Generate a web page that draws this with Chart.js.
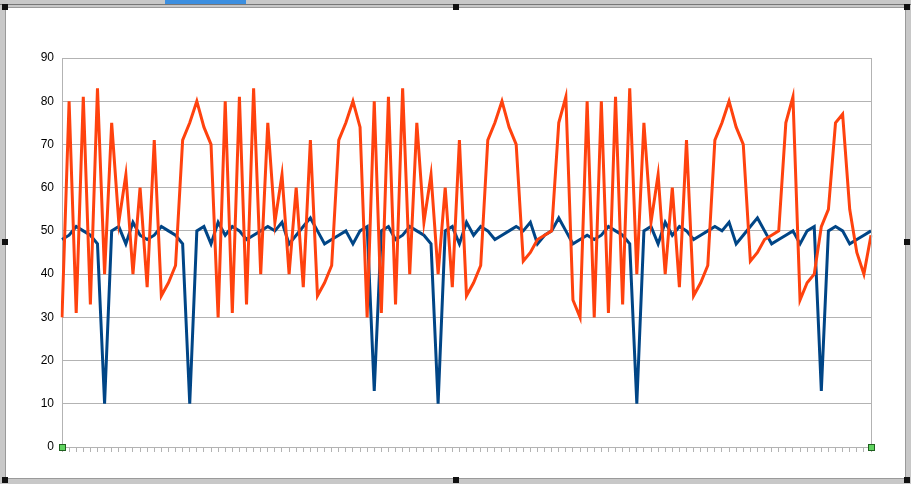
<!DOCTYPE html>
<html>
<head>
<meta charset="utf-8">
<script src="https://cdn.jsdelivr.net/npm/chart.js@4/dist/chart.umd.min.js"></script>
<style>
    html, body { margin: 0; padding: 0; }
    body { width: 911px; height: 484px; position: relative; overflow: hidden; background: #c8c8c8; font-family: "Liberation Sans", Arial, sans-serif; }
    .sheet { position: absolute; left: 5px; top: 7px; width: 899px; height: 470px; background: #fff; border: 1px solid #9a9a9a; }
    .tab { position: absolute; left: 165px; top: 0; width: 81px; height: 4px; background: #3c8fe0; }
    .topline { position: absolute; left: 0; top: 4px; width: 911px; height: 1px; background: #777; }
    .handle { position: absolute; width: 6px; height: 6px; background: #111; }
    #chart { position: absolute; left: 0; top: 0; }
</style>
</head>
<body>
<div class="topline"></div>
<div class="tab"></div>
<div class="sheet"></div>
<canvas id="chart" width="911" height="484"></canvas>
<div class="handle" style="left:2px;top:4px"></div>
<div class="handle" style="left:453px;top:4px"></div>
<div class="handle" style="left:904px;top:4px"></div>
<div class="handle" style="left:2px;top:239px"></div>
<div class="handle" style="left:904px;top:239px"></div>
<div class="handle" style="left:2px;top:477px"></div>
<div class="handle" style="left:453px;top:477px"></div>
<div class="handle" style="left:904px;top:477px"></div>
<script>
    // Series values
    const blueSeries = [
        48, 49, 51, 50, 49, 47, 10,
        50, 51, 47, 52, 49, 48, 49, 51, 50, 49, 47, 10,
        50, 51, 47, 52, 49, 51, 50, 48, 49, 50, 51, 50, 52, 47, 49, 51, 53, 50, 47, 48, 49, 50, 47, 50, 51, 13,
        50, 51, 48, 49, 51, 50, 49, 47, 10,
        50, 51, 47, 52, 49, 51, 50, 48, 49, 50, 51, 50, 52, 47, 49, 50, 53, 50, 47, 48, 49, 48, 49, 51, 50, 49, 47, 10,
        50, 51, 47, 52, 49, 51, 50, 48, 49, 50, 51, 50, 52, 47, 49, 51, 53, 50, 47, 48, 49, 50, 47, 50, 51, 13,
        50, 51, 50, 47, 48, 49, 50
    ];
    const orangeSeries = [
        30, 80, 31, 81, 33, 83, 40, 75, 52, 63, 40, 60, 37, 71, 35, 38, 42, 71, 75, 80, 74, 70,
        30, 80, 31, 81, 33, 83, 40, 75, 52, 63, 40, 60, 37, 71, 35, 38, 42, 71, 75, 80, 74,
        30, 80, 31, 81, 33, 83, 40, 75, 52, 63, 40, 60, 37, 71, 35, 38, 42, 71, 75, 80, 74, 70, 43, 45, 48, 49, 50,
        75, 81, 34, 30, 80, 30, 80, 31, 81, 33, 83, 40,
        75, 52, 63, 40, 60, 37, 71, 35, 38, 42, 71, 75, 80, 74, 70, 43, 45, 48, 49, 50,
        75, 81, 34, 38, 40, 51, 55, 75, 77, 55, 45, 40, 49
    ];
    // one category per row, no labels shown on the axis
    const categories = blueSeries.map((v, i) => String(i + 1));
    const yMin = 0;
    const yMax = 90;
    const yStep = 10;

    const gridColor = '#b3b3b3';

    // right wall line and the two little green selection markers
    const wallPlugin = {
        id: 'wall',
        afterDraw(chart) {
            const { ctx, chartArea } = chart;
            ctx.save();
            ctx.strokeStyle = gridColor;
            ctx.lineWidth = 1;
            ctx.beginPath();
            ctx.moveTo(Math.round(chartArea.right) + 0.5, chartArea.top);
            ctx.lineTo(Math.round(chartArea.right) + 0.5, chartArea.bottom);
            ctx.stroke();
            [chartArea.left, chartArea.right].forEach(x => {
                ctx.fillStyle = '#5fd35f';
                ctx.strokeStyle = '#1f5f1f';
                ctx.fillRect(Math.round(x) - 3, Math.round(chartArea.bottom) - 3, 7, 7);
                ctx.strokeRect(Math.round(x) - 2.5, Math.round(chartArea.bottom) - 2.5, 6, 6);
            });
            ctx.restore();
        }
    };

    new Chart(document.getElementById('chart').getContext('2d'), {
        type: 'line',
        data: {
            labels: categories,
            datasets: [{
                label: 'Series 1',
                data: blueSeries,
                borderColor: '#004586',
                borderWidth: 3,
                pointRadius: 0,
                tension: 0,
                order: 2
            }, {
                label: 'Series 2',
                data: orangeSeries,
                borderColor: '#ff420e',
                borderWidth: 3,
                pointRadius: 0,
                tension: 0,
                order: 1
            }]
        },
        options: {
            responsive: false,
            animation: false,
            layout: { padding: { left: 0, top: 58, right: 40, bottom: 0 } },
            plugins: {
                legend: { display: false },
                tooltip: { enabled: false }
            },
            scales: {
                x: {
                    offset: false,
                    grid: { drawOnChartArea: false, drawTicks: true, tickLength: 5, color: gridColor },
                    border: { display: true, color: gridColor },
                    ticks: { display: false, autoSkip: false },
                    afterFit: scale => { scale.height = 37; }
                },
                y: {
                    min: yMin,
                    max: yMax,
                    grid: { color: gridColor, drawTicks: false },
                    border: { display: true, color: gridColor },
                    ticks: {
                        stepSize: yStep,
                        padding: 8,
                        color: '#000',
                        font: { family: '"Liberation Sans", Arial, sans-serif', size: 12 }
                    },
                    afterFit: scale => { scale.width = 62; }
                }
            }
        },
        plugins: [wallPlugin]
    });
</script>
</body>
</html>
